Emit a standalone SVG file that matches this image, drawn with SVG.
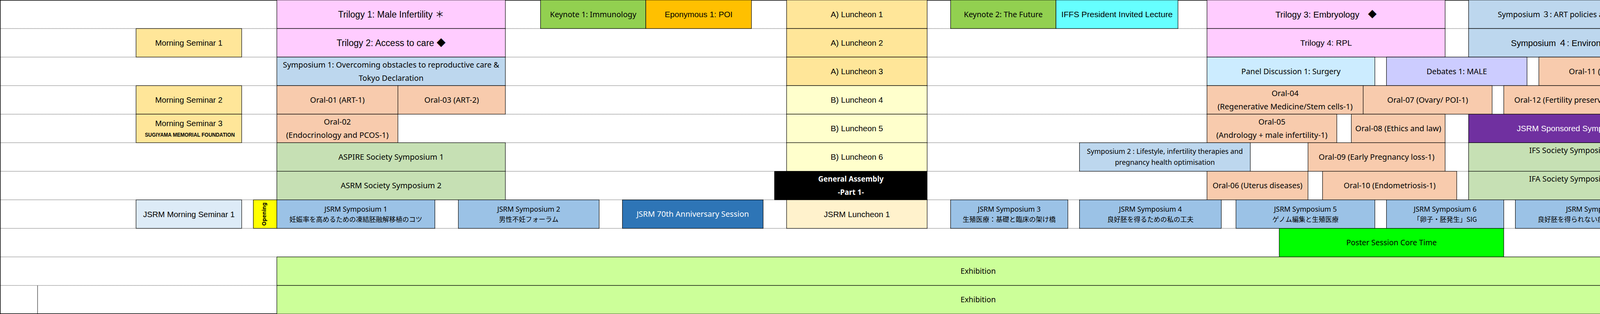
<svg xmlns="http://www.w3.org/2000/svg" width="4840" height="804" viewBox="0 0 4840 804">
<style>
.b{stroke:#000;stroke-width:1.2}
.a{font-family:'Liberation Sans',Arial,'Noto Sans CJK JP',sans-serif;text-anchor:middle;fill:#000}
.m{font-family:'Noto Sans','Open Sans','Noto Sans CJK JP',sans-serif;text-anchor:middle;fill:#000}
.j{font-family:'Noto Sans CJK JP',sans-serif;font-size:17px;text-anchor:middle;fill:#000}
.w{fill:#fff}
.grid{stroke:#000;stroke-width:1;stroke-dasharray:1 1}
.tri{fill:#FFCCFF}.key{fill:#92D050}.epo{fill:#FFC000}.luA{fill:#FFE699}.luB{fill:#FFFFCC}.luJ{fill:#FFF2CC}
.sym{fill:#BDD7EE}.oral{fill:#F8CBAD}.soc{fill:#C6E0B4}.js{fill:#9BC2E6}.j70{fill:#2E75B6}
.pan{fill:#CCECFF}.deb{fill:#CCCCFF}.iffs{fill:#66FFFF}.spon{fill:#7030A0}.post{fill:#00FF00}.exh{fill:#CCFF99}
.jms{fill:#DDEBF7}.open{fill:#FFFF00}.ga{fill:#000}
</style>

<g id="grid">
<line class="grid" x1="0" y1="73.09" x2="4840" y2="73.09"/>
<line class="grid" x1="0" y1="146.18" x2="4840" y2="146.18"/>
<line class="grid" x1="0" y1="219.27" x2="4840" y2="219.27"/>
<line class="grid" x1="0" y1="292.36" x2="4840" y2="292.36"/>
<line class="grid" x1="0" y1="365.45" x2="4840" y2="365.45"/>
<line class="grid" x1="0" y1="438.55" x2="4840" y2="438.55"/>
<line class="grid" x1="0" y1="511.64" x2="4840" y2="511.64"/>
<line class="grid" x1="0" y1="584.73" x2="4840" y2="584.73"/>
<line class="grid" x1="0" y1="657.82" x2="4840" y2="657.82"/>
<line class="grid" x1="0" y1="730.91" x2="4840" y2="730.91"/>
<line x1="96.2" y1="730.91" x2="96.2" y2="804" stroke="#000" stroke-width="1"/>
<rect x="0.75" y="0.75" width="4838.5" height="802.5" fill="none" stroke="#000" stroke-width="1.5"/>
</g>

<!-- Row 0 -->
<g id="trilogy1"><rect class="b tri" x="708.7" y="0" width="585" height="73.09"/><text class="a" x="1001.2" y="44.8" font-size="23">Trilogy 1: Male Infertility ＊</text></g>
<g id="keynote1"><rect class="b key" x="1383.7" y="0" width="269.6" height="73.09"/><text class="m" x="1518.5" y="43.6" font-size="19.7">Keynote 1: Immunology</text></g>
<g id="eponymous1"><rect class="b epo" x="1653.3" y="0" width="270.4" height="73.09"/><text class="a" x="1788.5" y="43.9" font-size="20.7">Eponymous 1: POI</text></g>
<g id="luncheonA1"><rect class="b luA" x="2013.7" y="0" width="359.8" height="73.09"/><text class="a" x="2193.6" y="43.9" font-size="20.6">A) Luncheon 1</text></g>
<g id="keynote2"><rect class="b key" x="2433.5" y="0" width="269.8" height="73.09"/><text class="m" x="2568.4" y="43.6" font-size="19.7">Keynote 2: The Future</text></g>
<g id="iffs"><rect class="b iffs" x="2703.3" y="0" width="312.3" height="73.09"/><text class="a" x="2859.5" y="44.1" font-size="21.1">IFFS President Invited Lecture</text></g>
<g id="trilogy3"><rect class="b tri" x="3089.9" y="0" width="609.6" height="73.09"/><text class="a" x="3394.7" y="44.5" font-size="22.3">Trilogy 3: Embryology　◆</text></g>
<g id="symposium3"><rect class="b sym" x="3759.6" y="0" width="539.7" height="73.09"/><text class="m" x="4029.5" y="43.6" font-size="19.7">Symposium ３: ART policies and utilisation</text></g>

<!-- Row 1 -->
<g id="morning1"><rect class="b luA" x="348.3" y="73.09" width="270.4" height="73.09"/><text class="a" x="483.5" y="116.9" font-size="20.4">Morning Seminar 1</text></g>
<g id="trilogy2"><rect class="b tri" x="708.7" y="73.09" width="585" height="73.09"/><text class="a" x="1001.2" y="117.9" font-size="23">Trilogy 2: Access to care ◆</text></g>
<g id="luncheonA2"><rect class="b luA" x="2013.7" y="73.09" width="359.8" height="73.09"/><text class="a" x="2193.6" y="117" font-size="20.6">A) Luncheon 2</text></g>
<g id="trilogy4"><rect class="b tri" x="3089.9" y="73.09" width="609.6" height="73.09"/><text class="a" x="3394.7" y="117.1" font-size="21">Trilogy 4: RPL</text></g>
<g id="symposium4"><rect class="b sym" x="3759.6" y="73.09" width="539.7" height="73.09"/><text class="a" x="4029.5" y="117.5" font-size="22">Symposium ４: Environment　◆</text></g>

<!-- Row 2 -->
<g id="symposium1"><rect class="b sym" x="708.7" y="146.18" width="585" height="73.09"/><text class="m" x="1001.2" y="172.6" font-size="19.8">Symposium 1: Overcoming obstacles to reproductive care &amp;</text><text class="m" x="1001.2" y="206.6" font-size="19.8">Tokyo Declaration</text></g>
<g id="luncheonA3"><rect class="b luA" x="2013.7" y="146.18" width="359.8" height="73.09"/><text class="a" x="2193.6" y="190.1" font-size="20.6">A) Luncheon 3</text></g>
<g id="panel1"><rect class="b pan" x="3089.9" y="146.18" width="429.7" height="73.09"/><text class="m" x="3304.8" y="189.8" font-size="19.7">Panel Discussion 1: Surgery</text></g>
<g id="debates1"><rect class="b deb" x="3549.4" y="146.18" width="359.8" height="73.09"/><text class="m" x="3729.3" y="189.8" font-size="19.7">Debates 1: MALE</text></g>
<g id="oral11"><rect class="b oral" x="3939.5" y="146.18" width="359.8" height="73.09"/><text class="m" x="4119.4" y="189.9" font-size="20">Oral-11 (Embrology-1)</text></g>

<!-- Row 3 -->
<g id="morning2"><rect class="b luA" x="348.3" y="219.27" width="270.4" height="73.09"/><text class="a" x="483.5" y="263.1" font-size="20.4">Morning Seminar 2</text></g>
<g id="oral01"><rect class="b oral" x="708.7" y="219.27" width="309.9" height="73.09"/><text class="m" x="863.7" y="263" font-size="20">Oral-01 (ART-1)</text></g>
<g id="oral03"><rect class="b oral" x="1018.6" y="219.27" width="275.1" height="73.09"/><text class="m" x="1156.2" y="263" font-size="20">Oral-03 (ART-2)</text></g>
<g id="luncheonB4"><rect class="b luB" x="2013.7" y="219.27" width="359.8" height="73.09"/><text class="a" x="2193.6" y="263.2" font-size="20.6">B) Luncheon 4</text></g>
<g id="oral04"><rect class="b oral" x="3089.9" y="219.27" width="399.8" height="73.09"/><text class="m" x="3289.8" y="245.7" font-size="20">Oral-04</text><text class="m" x="3289.8" y="279.7" font-size="20">(Regenerative Medicine/Stem cells-1)</text></g>
<g id="oral07"><rect class="b oral" x="3489.7" y="219.27" width="330.1" height="73.09"/><text class="m" x="3654.8" y="263" font-size="20">Oral-07 (Ovary/ POI-1)</text></g>
<g id="oral12"><rect class="b oral" x="3849.6" y="219.27" width="329.9" height="73.09"/><text class="m" x="4014.6" y="263" font-size="19.7">Oral-12 (Fertility preservation)</text></g>

<!-- Row 4 -->
<g id="morning3"><rect class="b luA" x="348.3" y="292.36" width="270.4" height="73.09"/><text class="a" x="483.5" y="323.3" font-size="20.4">Morning Seminar 3</text><text class="a" x="486" y="350" font-size="14" font-weight="bold" textLength="230" lengthAdjust="spacingAndGlyphs">SUGIYAMA MEMORIAL FOUNDATION</text></g>
<g id="oral02"><rect class="b oral" x="708.7" y="292.36" width="309.9" height="73.09"/><text class="m" x="863.7" y="318.8" font-size="20">Oral-02</text><text class="m" x="863.7" y="352.8" font-size="20">(Endocrinology and PCOS-1)</text></g>
<g id="luncheonB5"><rect class="b luB" x="2013.7" y="292.36" width="359.8" height="73.09"/><text class="a" x="2193.6" y="336.3" font-size="20.6">B) Luncheon 5</text></g>
<g id="oral05"><rect class="b oral" x="3089.9" y="292.36" width="332.4" height="73.09"/><text class="m" x="3256.1" y="318.8" font-size="20">Oral-05</text><text class="m" x="3256.1" y="352.8" font-size="20">(Andrology + male infertility-1)</text></g>
<g id="oral08"><rect class="b oral" x="3459.4" y="292.36" width="240.1" height="73.09"/><text class="m" x="3579.5" y="336.1" font-size="20">Oral-08 (Ethics and law)</text></g>
<g id="jsrmSponsored1"><rect class="b spon" x="3759.6" y="292.36" width="539.7" height="73.09"/><text class="a w" x="4029.5" y="336.3" font-size="20.7">JSRM Sponsored Symposium 1</text></g>

<!-- Row 5 -->
<g id="aspire1"><rect class="b soc" x="708.7" y="365.45" width="585" height="73.09"/><text class="m" x="1001.2" y="409.2" font-size="20">ASPIRE Society Symposium 1</text></g>
<g id="luncheonB6"><rect class="b luB" x="2013.7" y="365.45" width="359.8" height="73.09"/><text class="a" x="2193.6" y="409.4" font-size="20.6">B) Luncheon 6</text></g>
<g id="symposium2"><rect class="b sym" x="2763.5" y="365.45" width="437.2" height="73.09"/><text class="m" x="2982.1" y="394.4" font-size="17.8">Symposium 2 : Lifestyle, infertility therapies and</text><text class="m" x="2982.1" y="421.7" font-size="17.8">pregnancy health optimisation</text></g>
<g id="oral09"><rect class="b oral" x="3348.5" y="365.45" width="351" height="73.09"/><text class="m" x="3524" y="409.2" font-size="20">Oral-09 (Early Pregnancy loss-1)</text></g>
<g id="ifs3"><rect class="b soc" x="3759.6" y="365.45" width="539.7" height="73.09"/><text class="m" x="4029.5" y="391.6" font-size="19.8">IFS Society Symposium 3</text></g>

<!-- Row 6 -->
<g id="asrm2"><rect class="b soc" x="708.7" y="438.55" width="585" height="73.09"/><text class="m" x="1001.2" y="482.3" font-size="20">ASRM Society Symposium 2</text></g>
<g id="generalAssembly"><rect class="b ga" x="1982.8" y="438.55" width="390.7" height="73.09"/><text class="m w" x="2178.2" y="465" font-size="18.8" font-weight="bold">General Assembly</text><text class="m w" x="2178.2" y="499" font-size="18.8" font-weight="bold">-Part 1-</text></g>
<g id="oral06"><rect class="b oral" x="3089.9" y="438.55" width="258.6" height="73.09"/><text class="m" x="3219.2" y="482.3" font-size="19.6">Oral-06 (Uterus diseases)</text></g>
<g id="oral10"><rect class="b oral" x="3385.7" y="438.55" width="343.6" height="73.09"/><text class="m" x="3557.5" y="482.3" font-size="19.7">Oral-10 (Endometriosis-1)</text></g>
<g id="ifa4"><rect class="b soc" x="3759.6" y="438.55" width="539.7" height="73.09"/><text class="m" x="4029.5" y="464.7" font-size="19.8">IFA Society Symposium 4</text></g>

<!-- Row 7 -->
<g id="jsrmMorning1"><rect class="b jms" x="348.3" y="511.64" width="270.4" height="73.09"/><text class="a" x="483.5" y="555.5" font-size="20.5">JSRM Morning Seminar 1</text></g>
<g id="opening"><rect class="b open" x="648.5" y="511.64" width="60.2" height="73.09"/><text class="m" transform="translate(680.5,548.2) rotate(-90)" x="0" y="0" font-size="14" font-weight="bold">Opening</text></g>
<g id="jsrmSymp1"><rect class="b js" x="708.7" y="511.64" width="404.6" height="73.09"/><text class="m" x="911" y="542.1" font-size="18">JSRM Symposium 1</text><text class="j" x="911" y="568">妊娠率を高めるための凍結胚融解移植のコツ</text></g>
<g id="jsrmSymp2"><rect class="b js" x="1173.4" y="511.64" width="360.4" height="73.09"/><text class="m" x="1353.6" y="542.1" font-size="18">JSRM Symposium 2</text><text class="j" x="1353.6" y="568">男性不妊フォーラム</text></g>
<g id="jsrm70th"><rect class="b j70" x="1593.4" y="511.64" width="360.2" height="73.09"/><text class="m w" x="1773.5" y="555.3" font-size="20">JSRM 70th Anniversary Session</text></g>
<g id="jsrmLuncheon1"><rect class="b luJ" x="2013.7" y="511.64" width="359.8" height="73.09"/><text class="a" x="2193.6" y="555.5" font-size="20.6">JSRM Luncheon 1</text></g>
<g id="jsrmSymp3"><rect class="b js" x="2433.5" y="511.64" width="300.2" height="73.09"/><text class="m" x="2583.6" y="542.1" font-size="18">JSRM Symposium 3</text><text class="j" x="2583.6" y="568">生殖医療：基礎と臨床の架け橋</text></g>
<g id="jsrmSymp4"><rect class="b js" x="2763.5" y="511.64" width="363" height="73.09"/><text class="m" x="2945" y="542.1" font-size="18">JSRM Symposium 4</text><text class="j" x="2945" y="568">良好胚を得るための私の工夫</text></g>
<g id="jsrmSymp5"><rect class="b js" x="3164.1" y="511.64" width="355.5" height="73.09"/><text class="m" x="3341.9" y="542.1" font-size="18">JSRM Symposium 5</text><text class="j" x="3341.9" y="568">ゲノム編集と生殖医療</text></g>
<g id="jsrmSymp6"><rect class="b js" x="3549.4" y="511.64" width="300.2" height="73.09"/><text class="m" x="3699.5" y="542.1" font-size="18">JSRM Symposium 6</text><text class="j" x="3699.5" y="568">「卵子・胚発生」SIG</text></g>
<g id="jsrmSymp7"><rect class="b js" x="3879.4" y="511.64" width="419.9" height="73.09"/><text class="m" x="4089.4" y="542.1" font-size="18">JSRM Symposium 7</text><text class="j" x="4089.4" y="568">良好胚を得られない症例に対する取組み</text></g>

<!-- Row 8 -->
<g id="poster"><rect class="b post" x="3274.8" y="584.73" width="574.8" height="73.09"/><text class="m" x="3562.2" y="628.3" font-size="19.5">Poster Session Core Time</text></g>

<!-- Rows 9-10 -->
<g id="exhibition1"><rect class="b exh" x="708.7" y="657.82" width="3590.6" height="73.09"/><text class="m" x="2504" y="701.3" font-size="19.3">Exhibition</text></g>
<g id="exhibition2"><rect class="b exh" x="708.7" y="730.91" width="3590.6" height="73.09"/><text class="m" x="2504" y="774.4" font-size="19.3">Exhibition</text></g>

<g id="connectors"/>
</svg>
